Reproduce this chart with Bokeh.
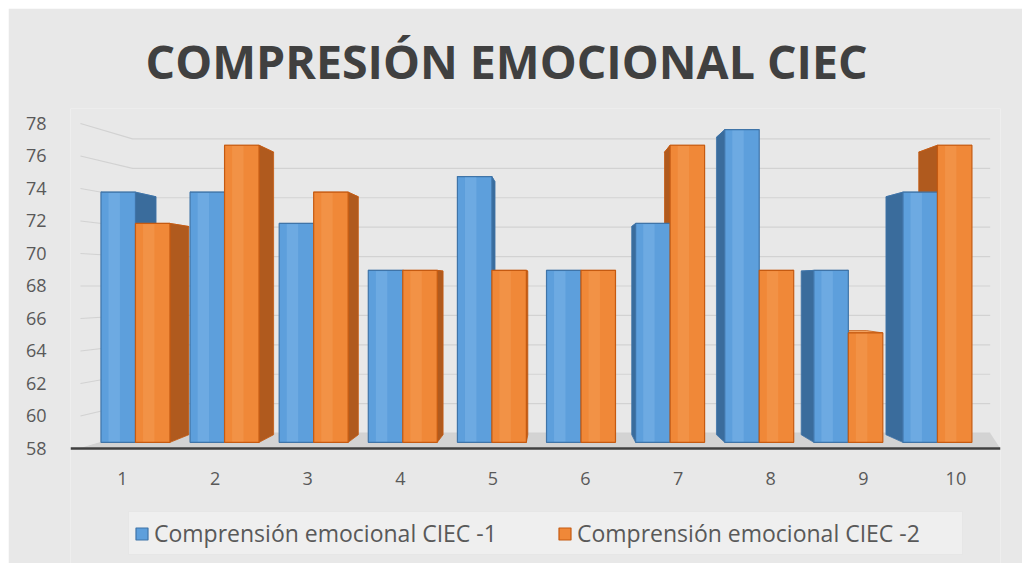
from bokeh.plotting import figure
from bokeh.models import Range1d, FixedTicker, Legend, LegendItem
from bokeh.embed import file_html
from bokeh.resources import INLINE

# ---------------- data ----------------
categories = [1, 2, 3, 4, 5, 6, 7, 8, 9, 10]
series_names = ["Comprensión emocional CIEC -1", "Comprensión emocional CIEC -2"]
serie1 = [74, 74, 72, 69, 75, 69, 72, 78, 69, 74]
serie2 = [72, 77, 74, 69, 69, 69, 77, 69, 65, 77]
y_ticks = [58, 60, 62, 64, 66, 68, 70, 72, 74, 76, 78]
title_text = "COMPRESIÓN EMOCIONAL CIEC"

# ---------------- style / 3D look ----------------
BASE = 58
VF = (4.71, 68.0)   # vanishing point for the front faces
SF = 0.9623         # front face scale
VB = (5.68, 68.0)   # vanishing point front -> back
SB = 0.951          # back face scale
WALL = 0.905        # back wall scale
BW = 0.387          # bar width (axis units)
WALL_FRONT_X, WALL_BACK_X, WALL_RIGHT_X, FLOOR_RIGHT_X = 0.546, 1.108, 10.37, 10.48

colors = {
    0: dict(front="#5d9fdc", line="#3f74a8", side="#3a6c9c", top="#86b8e6", hi="#8cc0ee"),
    1: dict(front="#f08838", line="#c55a11", side="#b05a1e", top="#f6a968", hi="#f7a661"),
}
BG = "#e8e8e8"


def front(x, y):
    return VF[0] + SF * (x - VF[0]), VF[1] + SF * (y - VF[1])


def back(x, y):
    return VB[0] + SB * (x - VB[0]), VB[1] + SB * (y - VB[1])


p = figure(width=1014, height=555, output_backend="svg", toolbar_location=None,
           x_range=Range1d(0.4384, 10.4816), y_range=Range1d(50.923, 78.923),
           min_border_left=62, min_border_right=22, min_border_top=100,
           min_border_bottom=0, background_fill_color=BG,
           border_fill_color=BG, outline_line_color=None)
p.margin = (8, 8, 8, 8)

# title
p.title.text = title_text
p.title.align = "left"
p.title.offset = 75
p.title.text_font = "Open Sans"
p.title.text_font_style = "bold"
p.title.text_font_size = "46.5px"
p.title.text_color = "#404040"
p.title.standoff = 32

# perspective grid (side wall + back wall) and floor
gx, gy = [], []
for t in y_ticks:
    yb = 68 + WALL * (t - 68)
    gx.append([WALL_FRONT_X, WALL_BACK_X, WALL_RIGHT_X])
    gy.append([t, yb, yb])
p.patch([WALL_FRONT_X, FLOOR_RIGHT_X, WALL_RIGHT_X, WALL_BACK_X],
        [BASE, BASE, 68 + WALL * (BASE - 68), 68 + WALL * (BASE - 68)],
        fill_color="#d3d3d3", line_color=None)
p.multi_line(gx, gy, line_color="#d2d2d2", line_width=1.2)

# build bar geometry from the data
values = [serie1, serie2]
tops_xs, tops_ys, sides_xs, sides_ys = {0: [], 1: []}, {0: [], 1: []}, {0: [], 1: []}, {0: [], 1: []}
fronts = {0: dict(l=[], r=[], t=[], b=[]), 1: dict(l=[], r=[], t=[], b=[])}
for s in (0, 1):
    for c, v in zip(categories, values[s]):
        x0 = c - BW if s == 0 else c
        x1 = x0 + BW
        left, bottom = front(x0, BASE)
        right, top = front(x1, v)
        fronts[s]["l"].append(left)
        fronts[s]["r"].append(right)
        fronts[s]["t"].append(top)
        fronts[s]["b"].append(bottom)
        edge = right if (left + right) / 2 < VB[0] else left
        bt = back(edge, top)
        bb = back(edge, bottom)
        sides_xs[s].append([edge, bt[0], bb[0], edge])
        sides_ys[s].append([top, bt[1], bb[1], bottom])
        btl = back(left, top)
        btr = back(right, top)
        tops_xs[s].append([left, right, btr[0], btl[0]])
        tops_ys[s].append([top, top, btr[1], btl[1]])

for s in (0, 1):
    p.patches(tops_xs[s], tops_ys[s], fill_color=colors[s]["top"], line_color=colors[s]["line"], line_width=0.8)
for s in (0, 1):
    p.patches(sides_xs[s], sides_ys[s], fill_color=colors[s]["side"], line_color=colors[s]["line"], line_width=0.8)

front_renderers = []
for s in (0, 1):
    f = fronts[s]
    r = p.quad(left=f["l"], right=f["r"], top=f["t"], bottom=f["b"],
               fill_color=colors[s]["front"], line_color=colors[s]["line"], line_width=1.2)
    front_renderers.append(r)
    w = [(b - a) for a, b in zip(f["l"], f["r"])]
    p.quad(left=[a + 0.22 * ww for a, ww in zip(f["l"], w)],
           right=[a + 0.55 * ww for a, ww in zip(f["l"], w)],
           top=[t - 0.05 for t in f["t"]], bottom=[b + 0.05 for b in f["b"]],
           fill_color=colors[s]["hi"], fill_alpha=0.35, line_color=None)

# axes
p.xgrid.visible = False
p.ygrid.visible = False
p.xaxis.ticker = FixedTicker(ticks=categories)
p.yaxis.ticker = FixedTicker(ticks=y_ticks)
for ax in (p.xaxis, p.yaxis):
    ax.major_tick_line_color = None
    ax.minor_tick_line_color = None
    ax.major_label_text_font = "Open Sans"
    ax.major_label_text_font_size = "18px"
    ax.major_label_text_color = "#595959"
p.yaxis.axis_line_color = None
p.yaxis.major_label_standoff = 18
p.xaxis.axis_line_color = "#404040"
p.xaxis.axis_line_width = 2.5
p.xaxis.major_label_standoff = 18
p.xaxis.fixed_location = BASE

# legend (inside the frame, under the category axis)
legend = Legend(items=[LegendItem(label=series_names[i], renderers=[front_renderers[i]]) for i in (0, 1)],
                orientation="horizontal", location=(58, 8))
legend.label_text_font = "Open Sans"
legend.label_text_font_size = "23px"
legend.label_text_color = "#595959"
legend.glyph_width = 15
legend.glyph_height = 15
legend.label_standoff = 5
legend.label_width = 380
legend.spacing = 23
legend.padding = 5
legend.margin = 0
legend.background_fill_color = "#efefef"
legend.border_line_color = "#dddddd"
p.add_layout(legend, "center")

open("out.html", "w").write(file_html(p, INLINE))
